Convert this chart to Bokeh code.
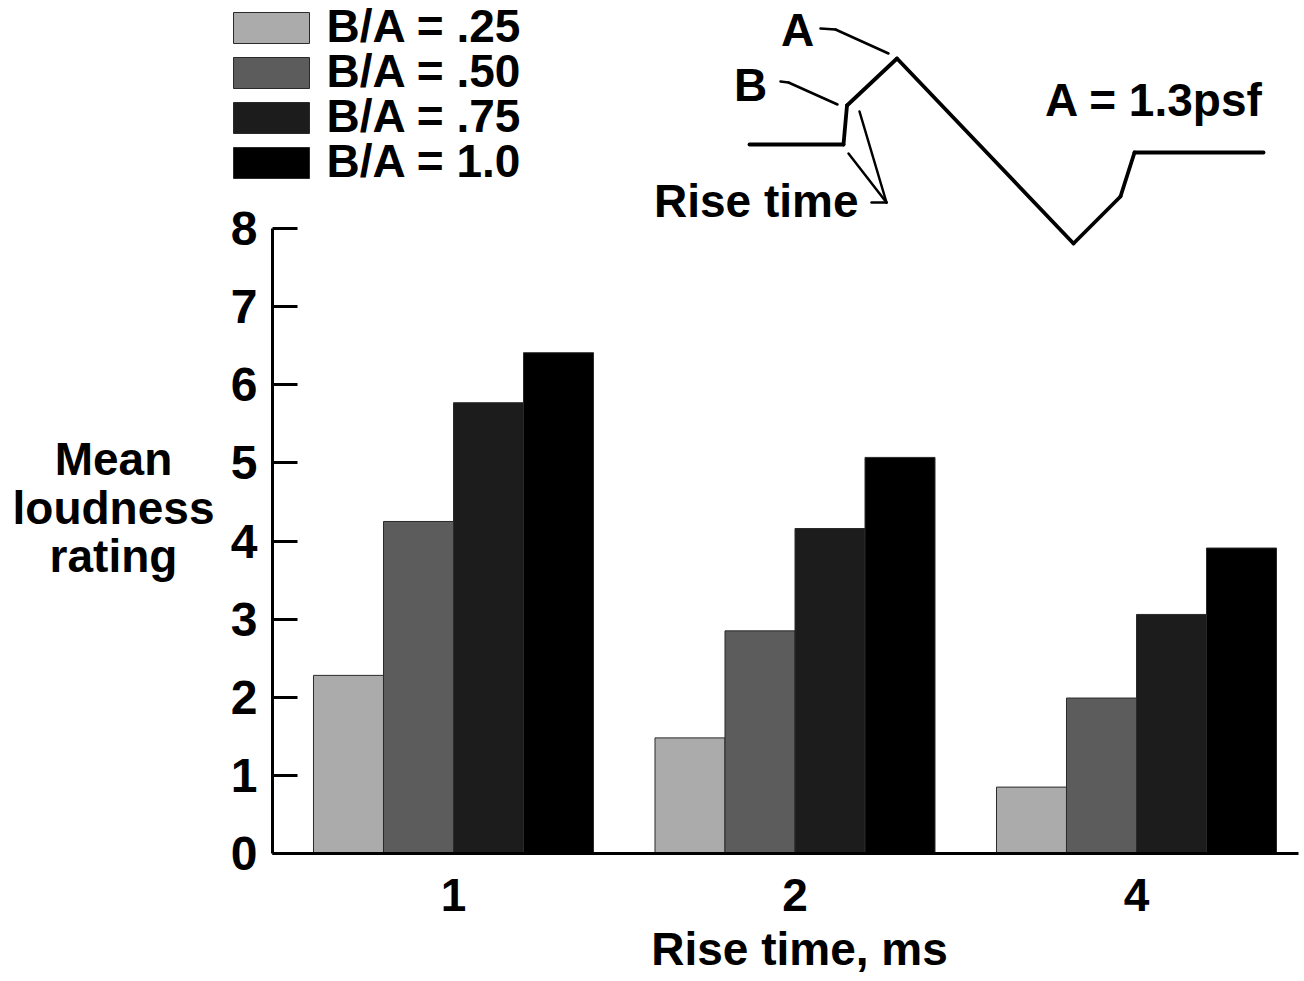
from bokeh.plotting import figure
from bokeh.models import Range1d, FixedTicker, Label, BoxAnnotation, Arrow, ColumnDataSource
from bokeh.transform import dodge
from bokeh.embed import file_html
from bokeh.resources import INLINE

# ---------------- data ----------------
categories = ["1", "2", "4"]          # rise time, ms
series_names = ["B/A = .25", "B/A = .50", "B/A = .75", "B/A = 1.0"]
ba_025 = [2.28, 1.48, 0.85]
ba_050 = [4.25, 2.85, 1.99]
ba_075 = [5.77, 4.16, 3.06]
ba_100 = [6.41, 5.07, 3.91]
y_ticks = [0, 1, 2, 3, 4, 5, 6, 7, 8]

colors = ["#ababab", "#5c5c5c", "#1c1c1c", "#000000"]
FONT = "Liberation Sans"

# ---------------- layout (page pixels of the picture) ----------------
W, H = 1300, 978
PAGE_OFF = 0
AX_X = 272                 # y-axis line
Y0_PX, Y8_PX = 853, 228    # pixel rows of y = 0 and y = 8
X1_PX, DX_PX = 453, 341.5  # centre of first group, spacing of groups
X_RIGHT_PX = 1298
BASELINE_FIX = 0.37        # em shift measured for alphabetic baseline labels

py_per = (Y0_PX - Y8_PX) / 8.0


def px_to_x(X):
    return 1 + (X - X1_PX) / DX_PX


def px_to_y(Y):
    return (Y0_PX - Y) / py_per


x_lo, x_hi = px_to_x(PAGE_OFF), px_to_x(PAGE_OFF + W)
y_lo, y_hi = px_to_y(PAGE_OFF + H), px_to_y(PAGE_OFF)
x_axis_start = px_to_x(AX_X)
x_axis_end = px_to_x(X_RIGHT_PX)


def fx(X):  # screen x inside the frame (frame == whole canvas)
    return X - PAGE_OFF


def fy(Y):  # screen y (upwards) inside the frame
    return PAGE_OFF + H - Y


positions = [i + 1 for i in range(len(categories))]

p = figure(width=W, height=H,
           x_range=Range1d(x_lo, x_hi), y_range=Range1d(y_lo, y_hi),
           output_backend="svg", toolbar_location=None,
           min_border_left=0, min_border_right=0,
           min_border_top=0, min_border_bottom=0)
p.outline_line_color = None
p.xgrid.visible = False
p.ygrid.visible = False
p.background_fill_color = "white"
p.border_fill_color = "white"

src = ColumnDataSource(dict(x=positions, v0=ba_025, v1=ba_050, v2=ba_075, v3=ba_100))
bar_w = 0.205
offsets = [-1.5 * bar_w, -0.5 * bar_w, 0.5 * bar_w, 1.5 * bar_w]
for k in range(4):
    p.vbar(x=dodge("x", offsets[k], range=p.x_range), top="v%d" % k, bottom=0,
           width=bar_w, source=src, fill_color=colors[k],
           line_color="#2a2a2a", line_width=1)

# y axis (drawn at a fixed location inside the frame)
ya = p.yaxis[0]
ya.fixed_location = x_axis_start
ya.bounds = (0, 8)
ya.ticker = FixedTicker(ticks=y_ticks)
ya.major_tick_in = 25
ya.major_tick_out = 0
ya.minor_tick_in = 0
ya.minor_tick_out = 0
ya.axis_line_width = 3
ya.major_tick_line_width = 3
ya.axis_line_color = "black"
ya.major_tick_line_color = "black"
ya.major_label_text_font = FONT
ya.major_label_text_font_style = "bold"
ya.major_label_text_font_size = "48px"
ya.major_label_text_color = "black"
ya.major_label_standoff = 15

# x axis
xa = p.xaxis[0]
xa.fixed_location = 0
xa.bounds = (x_axis_start, x_axis_end)
xa.ticker = FixedTicker(ticks=positions)
xa.major_label_overrides = {pos: c for pos, c in zip(positions, categories)}
xa.major_tick_in = 0
xa.major_tick_out = 0
xa.minor_tick_in = 0
xa.minor_tick_out = 0
xa.axis_line_width = 3
xa.axis_line_color = "black"
xa.major_label_text_font = FONT
xa.major_label_text_font_style = "bold"
xa.major_label_text_font_size = "46px"
xa.major_label_text_color = "black"
xa.major_label_standoff = 25


def label(text, X, Y, size=46, align="center"):
    p.add_layout(Label(x=fx(X), y=fy(Y) + BASELINE_FIX * size,
                       x_units="screen", y_units="screen",
                       text=text, text_font=FONT, text_font_style="bold",
                       text_font_size="%dpx" % size, text_color="black",
                       text_align=align, text_baseline="alphabetic"))


# axis titles
label("Mean", 113, 476)
label("loudness", 113, 525)
label("rating", 113, 573)
label("Rise time, ms", 799, 966)

# legend
sw_tops = [12, 57, 102, 147]
for k in range(4):
    top = sw_tops[k]
    p.add_layout(BoxAnnotation(left=fx(233), right=fx(309), top=fy(top), bottom=fy(top + 31),
                               left_units="screen", right_units="screen",
                               top_units="screen", bottom_units="screen",
                               fill_color=colors[k], fill_alpha=1.0,
                               line_color="#2a2a2a", line_width=1, line_alpha=1.0,
                               level="overlay"))
    label(series_names[k], 326, top + 31, size=46, align="left")


# inset schematic of the waveform
def polyline(pts, w=3):
    for (x0, y0), (x1, y1) in zip(pts[:-1], pts[1:]):
        p.add_layout(Arrow(x_start=fx(x0), y_start=fy(y0), x_end=fx(x1), y_end=fy(y1),
                           start_units="screen", end_units="screen",
                           start=None, end=None, line_width=w, line_color="black",
                           line_cap="round", line_join="round"))


polyline([(749, 144), (843, 144), (846.5, 105), (896.5, 58), (1073, 243),
          (1120, 196), (1134, 152), (1263, 152)], w=3.8)
polyline([(820, 28), (835, 29), (888, 53)], w=2.5)
polyline([(780, 81), (788, 82), (837, 104)], w=2.5)
polyline([(848, 153), (886, 202), (859, 111)], w=2.5)
polyline([(871, 202), (886, 202)], w=2.5)

label("A", 797, 47)
label("B", 750, 102)
label("Rise time", 858, 218, size=46, align="right")
label("A = 1.3psf", 1263, 117, size=46, align="right")

open("out.html", "w").write(file_html(p, INLINE))
